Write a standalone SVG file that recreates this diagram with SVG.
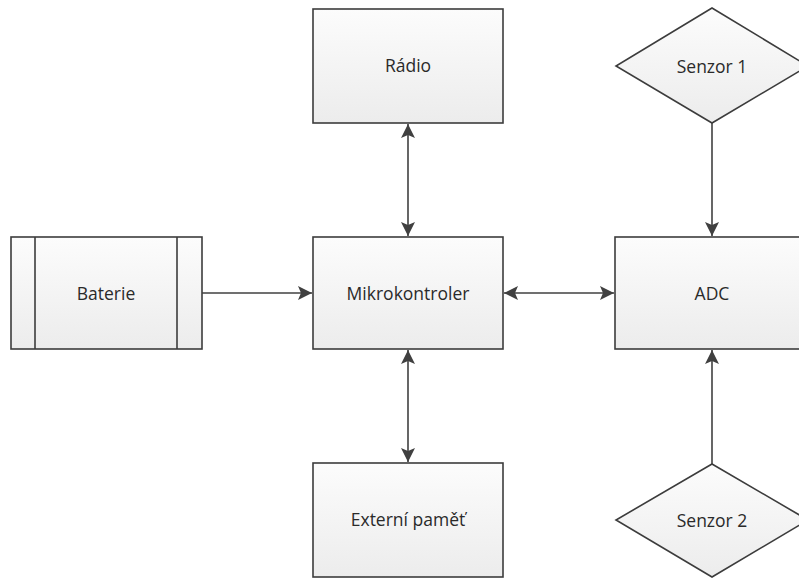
<svg xmlns="http://www.w3.org/2000/svg" width="799" height="581" viewBox="0 0 799 581">
  <defs>
    <linearGradient id="boxFill" x1="0" y1="0" x2="0" y2="1">
      <stop offset="0" stop-color="#fcfcfc"/>
      <stop offset="1" stop-color="#ececec"/>
    </linearGradient>
    <marker id="head" viewBox="0 0 14 14" refX="14" refY="7" markerWidth="14" markerHeight="14" markerUnits="userSpaceOnUse" orient="auto-start-reverse">
      <path d="M0,0 L14,7 L0,14 L3,7 Z" fill="#404040"/>
    </marker>
  </defs>
  <style>
    .shape { fill: url(#boxFill); stroke: #3c3c3c; stroke-width: 1.6; }
    .bar { stroke: #3c3c3c; stroke-width: 1.6; }
    .label { font-family: "Open Sans", "Liberation Sans", sans-serif; font-size: 17.5px; fill: #2a2a2a; text-anchor: middle; dominant-baseline: central; }
    .wire { fill: none; stroke: #404040; stroke-width: 1.6; }
  </style>
  <rect width="799" height="581" fill="#ffffff"/>

  <g id="baterie">
    <rect class="shape" x="11" y="237" width="191" height="112"/>
    <line class="bar" x1="35" y1="237" x2="35" y2="349"/>
    <line class="bar" x1="177" y1="237" x2="177" y2="349"/>
    <text class="label" x="106" y="293">Baterie</text>
  </g>

  <g id="radio">
    <rect class="shape" x="313" y="9" width="190" height="114"/>
    <text class="label" x="408" y="65">Rádio</text>
  </g>

  <g id="mikrokontroler">
    <rect class="shape" x="313" y="237" width="190" height="112"/>
    <text class="label" x="408" y="293">Mikrokontroler</text>
  </g>

  <g id="externi-pamet">
    <rect class="shape" x="313" y="463" width="190" height="114"/>
    <text class="label" x="408" y="519">Externí paměť</text>
  </g>

  <g id="adc">
    <rect class="shape" x="615" y="237" width="200" height="112"/>
    <text class="label" x="712" y="293">ADC</text>
  </g>

  <g id="senzor1">
    <polygon class="shape" points="712,8 808,66 712,123 616,66"/>
    <text class="label" x="712" y="66">Senzor 1</text>
  </g>

  <g id="senzor2">
    <polygon class="shape" points="712,464 808,520 712,577 616,520"/>
    <text class="label" x="712" y="520">Senzor 2</text>
  </g>

  <g id="connectors">
    <line class="wire" x1="202" y1="293" x2="312" y2="293" marker-end="url(#head)"/>
    <line class="wire" x1="504" y1="293" x2="614" y2="293" marker-start="url(#head)" marker-end="url(#head)"/>
    <line class="wire" x1="408" y1="124" x2="408" y2="236" marker-start="url(#head)" marker-end="url(#head)"/>
    <line class="wire" x1="408" y1="350" x2="408" y2="462" marker-start="url(#head)" marker-end="url(#head)"/>
    <line class="wire" x1="712" y1="123" x2="712" y2="236" marker-end="url(#head)"/>
    <line class="wire" x1="712" y1="464" x2="712" y2="350" marker-end="url(#head)"/>
  </g>
</svg>
